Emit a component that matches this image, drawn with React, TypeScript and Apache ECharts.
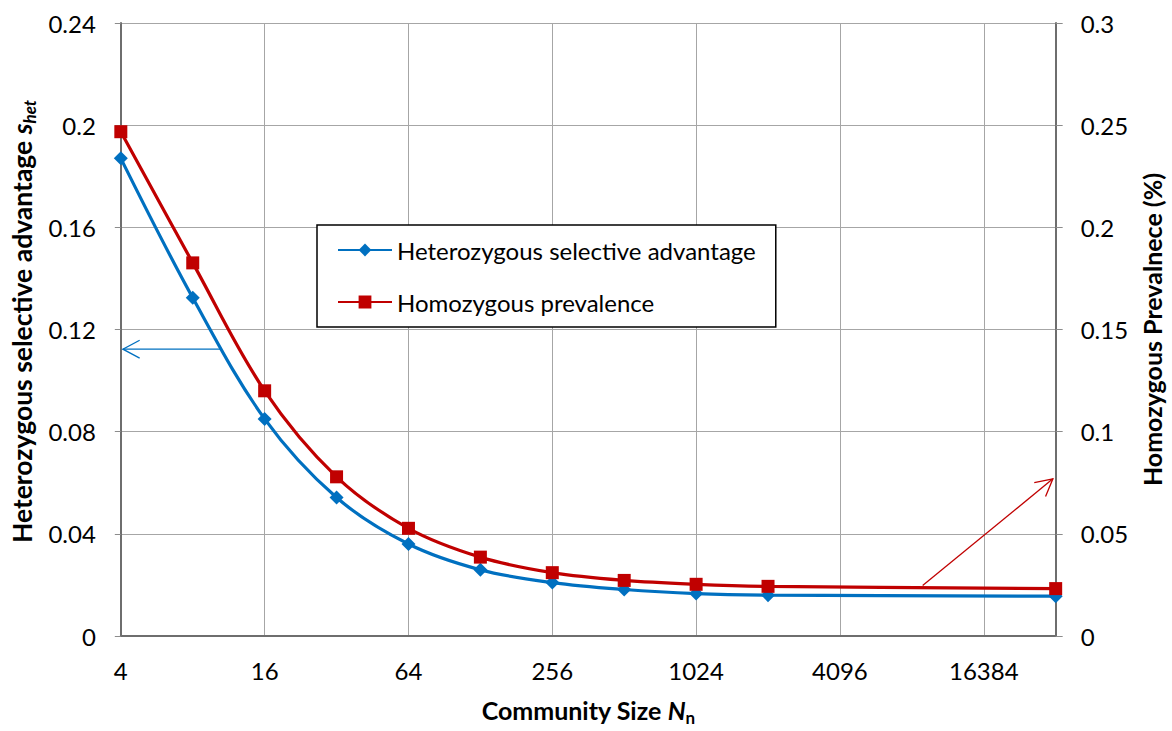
import React, { useEffect, useRef } from "react";
import * as echarts from "echarts";

// Community size N_n (log2 scale on the x axis)
const communitySize = [4, 8, 16, 32, 64, 128, 256, 512, 1024, 2048, 32768];
// Heterozygous selective advantage s_het (left axis)
const selectiveAdvantage = [0.187, 0.1324, 0.085, 0.0542, 0.036, 0.0259, 0.0209, 0.0182, 0.0166, 0.016, 0.0156];
// Homozygous prevalence in % (right axis)
const homozygousPrevalence = [0.2468, 0.1826, 0.12, 0.0779, 0.0527, 0.0386, 0.031, 0.0272, 0.0253, 0.0243, 0.0232];

const xTickLabels = ["4", "16", "64", "256", "1024", "4096", "16384"];

// Pointer arrows: [N, value] pairs; blue points at the left axis, red at the right axis
const leftArrow = { from: [10.6, 0.1123], to: [4.08, 0.1123] };
const rightArrow = { from: [9090, 0.0247], to: [31900, 0.0769] };

const BLUE = "#0070C0";
const RED = "#C00000";
const FONT = "Lato";
const LABEL_SIZE = 24;
const TITLE_SIZE = 25;

export default function App() {
  const ref = useRef<HTMLDivElement>(null);

  useEffect(() => {
    if (!ref.current) return;
    const chart = echarts.init(ref.current, null, { renderer: "svg" });

    const toXY = (ns: number[], vs: number[]) => ns.map((n, i) => [Math.log2(n), vs[i]]);

    const titleRich = (size: number, italicSub: boolean) => ({
      t: { fontFamily: FONT, fontWeight: "bold", fontSize: size, color: "#000", lineHeight: 32 },
      i: { fontFamily: FONT, fontWeight: "bold", fontStyle: "italic", fontSize: size, color: "#000", lineHeight: 32 },
      sub: {
        fontFamily: FONT,
        fontWeight: "bold",
        fontStyle: italicSub ? "italic" : "normal",
        fontSize: 17,
        color: "#000",
        lineHeight: 16,
        verticalAlign: "bottom",
      },
    });

    const option = {
      animation: false,
      backgroundColor: "#fff",
      textStyle: { fontFamily: FONT },
      grid: { left: 120, width: 940, top: 23, height: 620 },
      legend: {
        orient: "vertical",
        left: 317,
        top: 225,
        padding: [13, 20, 13, 20],
        itemGap: 28,
        itemWidth: 54,
        itemHeight: 16,
        borderColor: "#000",
        borderWidth: 1.5,
        backgroundColor: "#fff",
        textStyle: { fontFamily: FONT, fontSize: LABEL_SIZE, color: "#000" },
        data: ["Heterozygous selective advantage", "Homozygous prevalence"],
      },
      xAxis: {
        type: "value",
        min: 2,
        max: 15,
        interval: 2,
        name: "{t|Community Size }{i|N}{sub|n}",
        nameLocation: "middle",
        nameGap: 58,
        nameTextStyle: { rich: titleRich(TITLE_SIZE, false) },
        axisLine: { show: true, onZero: false, lineStyle: { color: "#6e6e6e", width: 2 } },
        axisTick: { show: false },
        axisLabel: {
          margin: 22,
          fontFamily: FONT,
          fontSize: LABEL_SIZE,
          color: "#000",
          formatter: (v: number) => {
            const k = (v - 2) / 2;
            return Number.isInteger(k) && k < xTickLabels.length ? xTickLabels[k] : "";
          },
        },
        splitLine: { show: true, lineStyle: { color: "#a6a6a6", width: 1 } },
      },
      yAxis: [
        {
          type: "value",
          min: 0,
          max: 0.24,
          interval: 0.04,
          position: "left",
          name: "{t|Heterozygous selective advantage }{i|s}{sub|het}",
          nameLocation: "middle",
          nameRotate: 90,
          nameGap: 78,
          nameTextStyle: { rich: titleRich(26.5, true), padding: [0, 0, 0, 16] },
          axisLine: { show: true, lineStyle: { color: "#6e6e6e", width: 2 } },
          axisTick: { show: true, length: 6, lineStyle: { color: "#8c8c8c" } },
          axisLabel: { margin: 25, fontFamily: FONT, fontSize: LABEL_SIZE, color: "#000" },
          splitLine: { show: true, lineStyle: { color: "#a6a6a6", width: 1 } },
        },
        {
          type: "value",
          min: 0,
          max: 0.3,
          interval: 0.05,
          position: "right",
          name: "Homozygous Prevalnece (%)",
          nameLocation: "middle",
          nameRotate: 90,
          nameGap: 78,
          nameTextStyle: { fontFamily: FONT, fontWeight: "bold", fontSize: TITLE_SIZE, color: "#000" },
          axisLine: { show: true, lineStyle: { color: "#6e6e6e", width: 2 } },
          axisTick: { show: true, length: 7, lineStyle: { color: "#8c8c8c" } },
          axisLabel: { margin: 25, fontFamily: FONT, fontSize: LABEL_SIZE, color: "#000" },
          splitLine: { show: false },
        },
      ],
      series: [
        {
          name: "Heterozygous selective advantage",
          type: "line",
          yAxisIndex: 0,
          smooth: 0.35,
          data: toXY(communitySize, selectiveAdvantage),
          symbol: "diamond",
          symbolSize: 14,
          lineStyle: { color: BLUE, width: 3.2 },
          itemStyle: { color: BLUE },
          z: 3,
        },
        {
          name: "Homozygous prevalence",
          type: "line",
          yAxisIndex: 1,
          smooth: 0.35,
          data: toXY(communitySize, homozygousPrevalence),
          symbol: "rect",
          symbolSize: 13,
          lineStyle: { color: RED, width: 3.2 },
          itemStyle: { color: RED },
          z: 4,
        },
      ],
    };

    chart.setOption(option);

    // Open-headed arrows placed in data space
    const arrow = (a: { from: number[]; to: number[] }, yAxisIndex: number, color: string) => {
      const p0 = chart.convertToPixel({ xAxisIndex: 0, yAxisIndex }, [Math.log2(a.from[0]), a.from[1]]) as number[];
      const p1 = chart.convertToPixel({ xAxisIndex: 0, yAxisIndex }, [Math.log2(a.to[0]), a.to[1]]) as number[];
      const ang = Math.atan2(p0[1] - p1[1], p0[0] - p1[0]);
      const len = 19;
      const spread = (28 * Math.PI) / 180;
      const w1 = [p1[0] + len * Math.cos(ang + spread), p1[1] + len * Math.sin(ang + spread)];
      const w2 = [p1[0] + len * Math.cos(ang - spread), p1[1] + len * Math.sin(ang - spread)];
      const style = { stroke: color, lineWidth: 1.3, fill: null };
      return [
        { type: "polyline", shape: { points: [p0, p1] }, style, z: 10, silent: true },
        { type: "polyline", shape: { points: [w1, p1, w2] }, style, z: 10, silent: true },
      ];
    };

    chart.setOption({
      graphic: [...arrow(leftArrow, 0, BLUE), ...arrow(rightArrow, 1, RED)],
    });

    return () => chart.dispose();
  }, []);

  return (
    <div
      ref={ref}
      style={{ position: "absolute", left: 0, top: 0, width: 1172, height: 731, background: "#fff" }}
    />
  );
}
